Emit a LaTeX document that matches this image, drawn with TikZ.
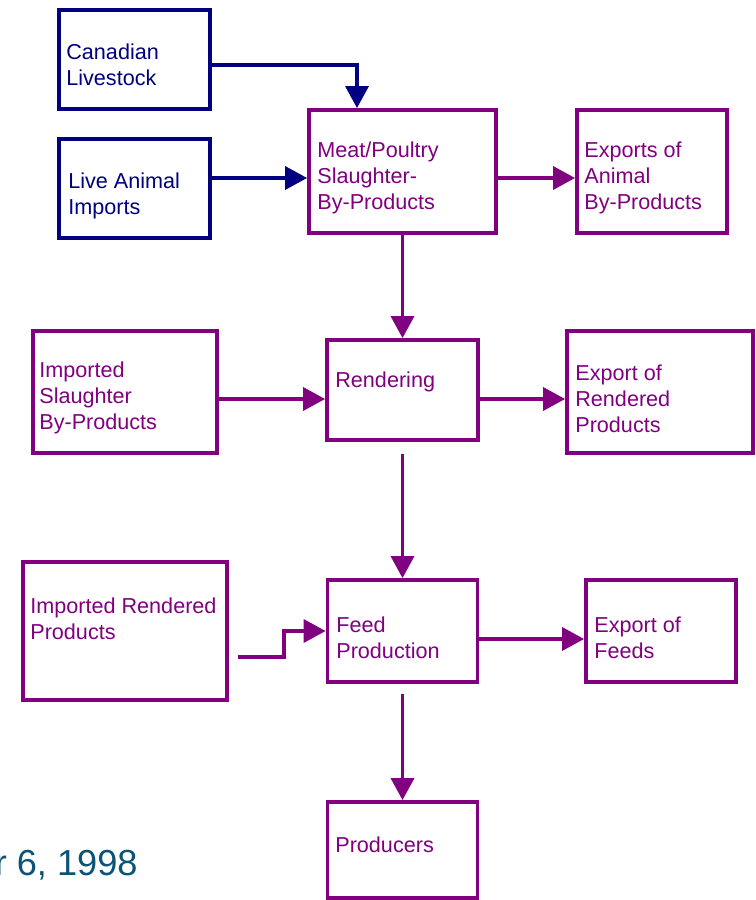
\documentclass[tikz,border=0pt]{standalone}
\usepackage{fontspec}
\setmainfont{Liberation Sans}
\usetikzlibrary{arrows.meta, positioning}
\definecolor{flownavy}{RGB}{0,0,128}
\definecolor{flowpurple}{RGB}{128,0,128}
\definecolor{datecol}{RGB}{12,84,118}

\begin{document}
\begin{tikzpicture}[
    x=0.02cm, y=-0.02cm,
    box/.style={draw, line width=2.2pt, inner sep=0pt},
    navybox/.style={box, draw=flownavy},
    purplebox/.style={box, draw=flowpurple},
    boxtext/.style={anchor=west, align=left, inner sep=0pt, font=\fontsize{12.3}{14.7}\selectfont},
    navyarrow/.style={color=flownavy, line width=2pt, -{Triangle[length=0.44cm, width=0.46cm]}},
    purplearrow/.style={color=flowpurple, line width=2pt, -{Triangle[length=0.44cm, width=0.46cm]}}
]
    \useasboundingbox (0,0) rectangle (756,900);
    \clip (0,0) rectangle (756,900);

    % Boxes
    \node[navybox, minimum width=3.02cm, minimum height=1.98cm] (can) at (134.5,59.5) {};
    \node[navybox, minimum width=3.02cm, minimum height=1.98cm] (live) at (134.5,188.5) {};
    \node[purplebox, minimum width=3.74cm, minimum height=2.46cm] (meat) at (402.5,171.5) {};
    \node[purplebox, minimum width=3.0cm, minimum height=2.46cm] (expa) at (652,171.5) {};
    \node[purplebox, minimum width=3.68cm, minimum height=2.44cm] (isp) at (125,392) {};
    \node[purplebox, minimum width=3.02cm, minimum height=2.0cm] (rend) at (402.5,390) {};
    \node[purplebox, minimum width=3.72cm, minimum height=2.44cm] (expr) at (660,392) {};
    \node[purplebox, minimum width=4.08cm, minimum height=2.76cm] (irp) at (125,631) {};
    \node[purplebox, minimum width=3.0cm, minimum height=2.04cm] (feed) at (402.5,631) {};
    \node[purplebox, minimum width=3.0cm, minimum height=2.04cm] (expf) at (661,631) {};
    \node[purplebox, minimum width=3.0cm, minimum height=1.92cm] (prod) at (402.5,850) {};

    % Texts
    \node[boxtext, text=flownavy] (can-t) at (66,65) {Canadian\\Livestock};
    \node[boxtext, text=flownavy] (live-t) at (68,196) {Live Animal\\Imports};
    \node[boxtext, text=flowpurple] (meat-t) at (317,178) {Meat/Poultry\\Slaughter-\\By-Products};
    \node[boxtext, text=flowpurple] (expa-t) at (584,178) {Exports of\\Animal\\By-Products};
    \node[boxtext, text=flowpurple] (isp-t) at (39,398) {Imported\\Slaughter\\By-Products};
    \node[boxtext, text=flowpurple] (rend-t) at (335,382) {Rendering};
    \node[boxtext, text=flowpurple] (expr-t) at (575,399) {Export of\\Rendered\\Products};
    \node[boxtext, text=flowpurple] (irp-t) at (30,619) {Imported Rendered\\Products};
    \node[boxtext, text=flowpurple] (feed-t) at (336,637.5) {Feed\\Production};
    \node[boxtext, text=flowpurple] (expf-t) at (594,637.5) {Export of\\Feeds};
    \node[boxtext, text=flowpurple] (prod-t) at (335,845) {Producers};

    \node[anchor=base east, inner sep=0pt, text=datecol, font=\fontsize{20.6}{24}\selectfont] (date) at (138,875) {r 6, 1998};

    % Connectors
    \coordinate (can-o) at ([yshift=-0.11cm]can.east);
    \coordinate (live-o) at ([yshift=0.21cm]live.east);
    \coordinate (meat-o) at ([yshift=-0.13cm]meat.east);
    \coordinate (isp-o) at ([yshift=-0.14cm]isp.east);
    \coordinate (rend-o) at ([yshift=-0.18cm]rend.east);
    \coordinate (irp-o) at ([xshift=0.18cm, yshift=-0.52cm]irp.east);
    \coordinate (feed-o) at ([yshift=-0.16cm]feed.east);

    \draw[navyarrow] (can-o) -| ([xshift=-0.91cm]meat.north);
    \draw[navyarrow] (live-o) -- (live-o -| meat.west);
    \draw[purplearrow] (meat-o) -- (meat-o -| expa.west);
    \draw[purplearrow] (meat.south) -- (rend.north);
    \draw[purplearrow] (isp-o) -- (isp-o -| rend.west);
    \draw[purplearrow] (rend-o) -- (rend-o -| expr.west);
    \draw[purplearrow, shorten <=0.24cm] (rend.south) -- (feed.north);
    \draw[purplearrow] (irp-o) -- ++(46,0) |- (feed.west);
    \draw[purplearrow] (feed-o) -- (feed-o -| expf.west);
    \draw[purplearrow, shorten <=0.2cm] (feed.south) -- (prod.north);
\end{tikzpicture}
\end{document}
